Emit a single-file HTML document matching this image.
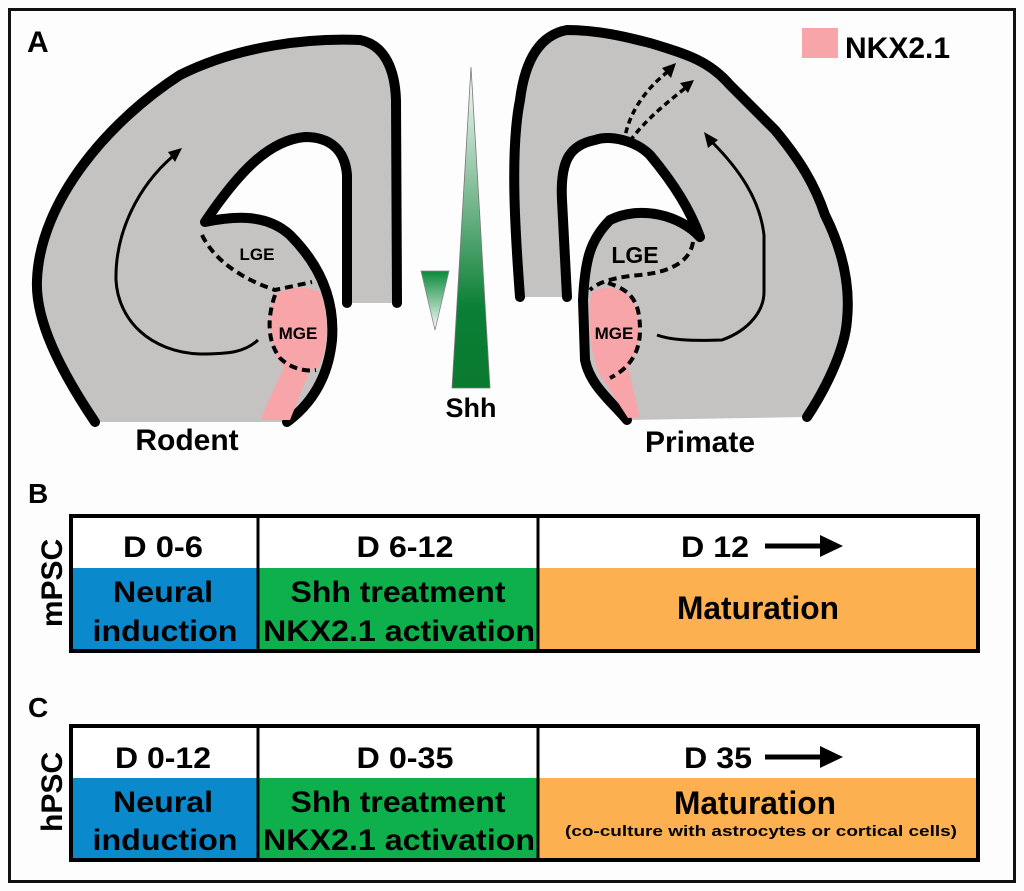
<!DOCTYPE html>
<html><head><meta charset="utf-8"><style>
html,body{margin:0;padding:0;background:#fdfdfd;}
svg{display:block;}
text{font-family:"Liberation Sans",Arial,sans-serif;font-weight:bold;fill:#000;}
</style></head><body>
<svg width="1024" height="891" viewBox="0 0 1024 891" xmlns="http://www.w3.org/2000/svg">
<defs>
<linearGradient id="gBig" x1="0" y1="0" x2="0" y2="1">
<stop offset="0" stop-color="#ffffff"/><stop offset="0.75" stop-color="#0a7f35"/><stop offset="1" stop-color="#0a7a30"/></linearGradient>
<linearGradient id="gSmall" x1="0" y1="0" x2="0" y2="1">
<stop offset="0" stop-color="#0a8a3a"/><stop offset="1" stop-color="#ffffff"/></linearGradient>
</defs>
<rect x="0" y="0" width="1024" height="891" fill="#fdfdfd"/>
<rect x="9.5" y="9.5" width="1005" height="872" fill="none" stroke="#111" stroke-width="3"/>
<text x="27" y="52" font-size="30">A</text>

<!-- Left brain (rodent) -->
<path d="M95,422 C60,370 35,320 37,280 C40,200 110,120 180,75 C240,45 310,38 360,40 C385,45 395,70 396,100 L397,303 L347,303 L347,175 C345,150 330,137 305,137 C270,140 240,170 205,222 C230,217 265,212 290,235 C320,265 335,300 332,340 C328,380 310,405 287,422 Z" fill="#c4c3c2"/>
<path d="M95,422 C60,370 35,320 37,280 C40,200 110,120 180,75 C240,45 310,38 360,40 C385,45 395,70 396,100 L397,303" fill="none" stroke="#000" stroke-width="10" stroke-linecap="round" stroke-linejoin="round"/>
<path d="M347,303 L347,175 C345,150 330,137 305,137 C270,140 240,170 205,222 C230,217 265,212 290,235 C320,265 335,300 332,340 C328,380 310,405 287,422" fill="none" stroke="#000" stroke-width="10" stroke-linecap="round" stroke-linejoin="round"/>
<path d="M275,295 C290,285 310,287 320,292 C330,315 328,350 318,368 C300,375 285,370 278,360 C268,340 268,310 275,295 Z" fill="#f8a5aa"/>
<path d="M285,365 L310,370 L290,420 L260,420 Z" fill="#f8a5aa"/>
<path d="M202,235 C215,262 245,280 275,290 L312,282" fill="none" stroke="#000" stroke-width="4" stroke-dasharray="8,5"/>
<path d="M275,295 C268,315 266,340 280,358 C290,368 305,372 316,370" fill="none" stroke="#000" stroke-width="4" stroke-dasharray="8,5"/>
<path d="M258,340 C245,352 230,354 200,354 C150,352 118,320 116,280 C115,230 140,185 172,157" fill="none" stroke="#000" stroke-width="3"/>
<polygon points="182,148 168,152 175,162" fill="#000"/>
<text x="257" y="260" font-size="17" text-anchor="middle">LGE</text>
<text x="298" y="339" font-size="17" text-anchor="middle">MGE</text>
<text x="187" y="450" font-size="30" text-anchor="middle">Rodent</text>

<polygon points="421,271 449,271 435,330" fill="url(#gSmall)" stroke="#888" stroke-width="0.8"/>
<polygon points="471,67 452,388 490,388" fill="url(#gBig)" stroke="#777" stroke-width="0.8"/>
<text x="471" y="417" font-size="27" text-anchor="middle">Shh</text>

<!-- Right brain (primate) -->
<path d="M520,297 C515,230 510,150 520,100 C525,60 540,35 567,30 C600,30 630,38 650,43 C690,55 710,62 730,85 C750,105 760,115 775,130 C800,160 815,185 825,215 C845,255 850,290 847,320 C845,350 825,390 807,417 L627,420 C610,400 590,385 585,360 L583,300 C585,260 590,240 610,220 C640,205 680,215 700,237 C690,210 675,185 650,155 C635,140 610,135 595,140 C570,145 560,160 562,200 L567,297 Z" fill="#c4c3c2"/>
<path d="M520,297 C515,230 510,150 520,100 C525,60 540,35 567,30 C600,30 630,38 650,43 C690,55 710,62 730,85 C750,105 760,115 775,130 C800,160 815,185 825,215 C845,255 850,290 847,320 C845,350 825,390 807,417" fill="none" stroke="#000" stroke-width="10" stroke-linecap="round" stroke-linejoin="round"/>
<path d="M567,297 L562,200 C560,160 570,145 595,140 C610,135 635,140 650,155 C675,185 690,210 700,237 C680,215 640,205 610,220 C590,240 585,260 583,300 L585,360 C590,385 610,400 627,420" fill="none" stroke="#000" stroke-width="10" stroke-linecap="round" stroke-linejoin="round"/>
<path d="M592,292 C605,285 625,287 633,300 C643,320 640,350 628,368 L640,417 L628,418 L600,375 C592,360 588,330 590,300 Z" fill="#f8a5aa"/>
<path d="M693,242 C690,262 670,272 640,275 C615,277 598,282 590,290" fill="none" stroke="#000" stroke-width="4" stroke-dasharray="8,5"/>
<path d="M608,283 C630,290 640,300 640,330 C640,352 630,368 610,378" fill="none" stroke="#000" stroke-width="4" stroke-dasharray="8,5"/>
<path d="M624,143 C628,110 650,85 670,70" fill="none" stroke="#000" stroke-width="3.5" stroke-dasharray="6,4"/>
<polygon points="676,63 662,68 671,78" fill="#000"/>
<path d="M630,141 C645,120 670,100 688,86" fill="none" stroke="#000" stroke-width="3.5" stroke-dasharray="6,4"/>
<polygon points="694,80 680,83 688,93" fill="#000"/>
<path d="M657,335 C670,340 690,341 722,340 C750,330 764,310 764,292 L764,235 C760,200 740,170 712,142" fill="none" stroke="#000" stroke-width="3"/>
<polygon points="704,132 708,148 718,140" fill="#000"/>
<text x="635" y="263" font-size="23" text-anchor="middle">LGE</text>
<text x="614" y="339" font-size="17" text-anchor="middle">MGE</text>
<text x="700" y="452" font-size="30" text-anchor="middle">Primate</text>

<rect x="802" y="28" width="36" height="30" fill="#f8a5aa"/>
<text x="845" y="58" font-size="30">NKX2.1</text>

<!-- B -->
<text x="28" y="503" font-size="28">B</text>
<text transform="translate(62,583) rotate(-90)" font-size="30" text-anchor="middle">mPSC</text>
<rect x="72" y="517" width="906" height="51" fill="#fff"/>
<rect x="72" y="568" width="186" height="82" fill="#0a8acd"/>
<rect x="258" y="568" width="280" height="82" fill="#0db04b"/>
<rect x="538" y="568" width="440" height="82" fill="#fcb050"/>
<rect x="71" y="516" width="907" height="135" fill="none" stroke="#000" stroke-width="4"/>
<line x1="258" y1="516" x2="258" y2="651" stroke="#000" stroke-width="3"/>
<line x1="538" y1="516" x2="538" y2="651" stroke="#000" stroke-width="3"/>
<text x="163" y="557" font-size="30" text-anchor="middle" textLength="80" lengthAdjust="spacingAndGlyphs">D 0-6</text>
<text x="405" y="557" font-size="30" text-anchor="middle" textLength="97" lengthAdjust="spacingAndGlyphs">D 6-12</text>
<text x="715" y="557" font-size="30" text-anchor="middle" textLength="68" lengthAdjust="spacingAndGlyphs">D 12</text>
<line x1="765" y1="546" x2="825" y2="546" stroke="#000" stroke-width="5"/>
<polygon points="820,535 843,546 820,557" fill="#000"/>
<text x="163" y="602" font-size="30" text-anchor="middle" textLength="100" lengthAdjust="spacingAndGlyphs">Neural</text>
<text x="165" y="641" font-size="30" text-anchor="middle" textLength="145" lengthAdjust="spacingAndGlyphs">induction</text>
<text x="398" y="602" font-size="30" text-anchor="middle" textLength="215" lengthAdjust="spacingAndGlyphs">Shh treatment</text>
<text x="399" y="641" font-size="30" text-anchor="middle" textLength="272" lengthAdjust="spacingAndGlyphs">NKX2.1 activation</text>
<text x="758" y="619" font-size="32" text-anchor="middle" textLength="162" lengthAdjust="spacingAndGlyphs">Maturation</text>

<!-- C -->
<text x="28" y="717" font-size="28">C</text>
<text transform="translate(62,792) rotate(-90)" font-size="30" text-anchor="middle">hPSC</text>
<rect x="72" y="727" width="906" height="51" fill="#fff"/>
<rect x="72" y="778" width="186" height="81" fill="#0a8acd"/>
<rect x="258" y="778" width="280" height="81" fill="#0db04b"/>
<rect x="538" y="778" width="440" height="81" fill="#fcb050"/>
<rect x="71" y="726" width="907" height="134" fill="none" stroke="#000" stroke-width="4"/>
<line x1="258" y1="726" x2="258" y2="860" stroke="#000" stroke-width="3"/>
<line x1="538" y1="726" x2="538" y2="860" stroke="#000" stroke-width="3"/>
<text x="163" y="768" font-size="30" text-anchor="middle" textLength="96" lengthAdjust="spacingAndGlyphs">D 0-12</text>
<text x="405" y="768" font-size="30" text-anchor="middle" textLength="97" lengthAdjust="spacingAndGlyphs">D 0-35</text>
<text x="718" y="768" font-size="30" text-anchor="middle" textLength="68" lengthAdjust="spacingAndGlyphs">D 35</text>
<line x1="765" y1="757" x2="825" y2="757" stroke="#000" stroke-width="5"/>
<polygon points="820,746 843,757 820,768" fill="#000"/>
<text x="163" y="812" font-size="30" text-anchor="middle" textLength="100" lengthAdjust="spacingAndGlyphs">Neural</text>
<text x="165" y="850" font-size="30" text-anchor="middle" textLength="145" lengthAdjust="spacingAndGlyphs">induction</text>
<text x="398" y="812" font-size="30" text-anchor="middle" textLength="215" lengthAdjust="spacingAndGlyphs">Shh treatment</text>
<text x="399" y="850" font-size="30" text-anchor="middle" textLength="272" lengthAdjust="spacingAndGlyphs">NKX2.1 activation</text>
<text x="755" y="814" font-size="32" text-anchor="middle" textLength="162" lengthAdjust="spacingAndGlyphs">Maturation</text>
<text x="761" y="836" font-size="15" text-anchor="middle" textLength="392" lengthAdjust="spacingAndGlyphs">(co-culture with astrocytes or cortical cells)</text>
</svg>
</body></html>
